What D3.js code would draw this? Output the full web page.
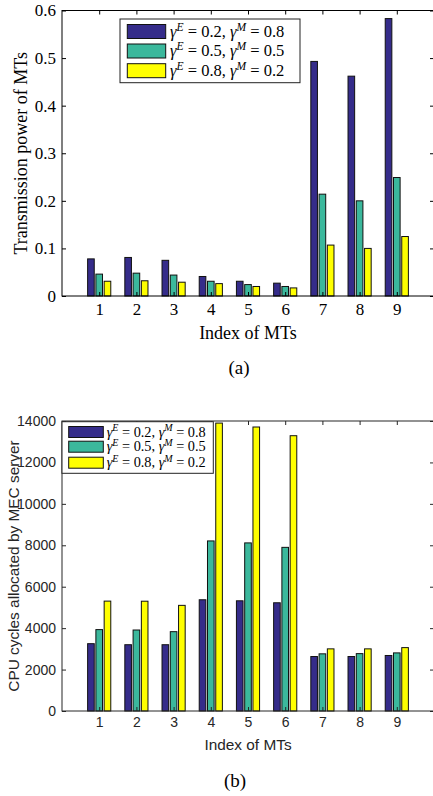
<!DOCTYPE html>
<html><head><meta charset="utf-8">
<script src="https://cdn.jsdelivr.net/npm/d3@7"></script>
<style>body{margin:0;background:#fff}svg{display:block}</style>
</head><body>
<svg id="c" width="433" height="796"></svg>
<script>
const categories = [1,2,3,4,5,6,7,8,9];
const seriesLabels = [["0.2","0.8"],["0.5","0.5"],["0.8","0.2"]];
const colors = ["#352c8a","#3bb89c","#ffff00"];
// (a) Transmission power
const powerS1 = [0.078,0.081,0.075,0.041,0.031,0.027,0.493,0.462,0.583];
const powerS2 = [0.046,0.048,0.044,0.031,0.024,0.020,0.214,0.200,0.249];
const powerS3 = [0.031,0.032,0.029,0.026,0.020,0.017,0.107,0.100,0.125];
const powerTicks = [0,0.1,0.2,0.3,0.4,0.5,0.6];
// (b) CPU cycles
const cpuS1 = [3250,3200,3200,5370,5320,5225,2630,2630,2680];
const cpuS2 = [3930,3910,3830,8210,8115,7900,2760,2770,2805];
const cpuS3 = [5305,5300,5100,13900,13710,13290,3000,3000,3060];
const cpuTicks = [0,2000,4000,6000,8000,10000,12000,14000];

const SERIF = "'Liberation Serif', 'Times New Roman', serif";
const SANS = "'Liberation Sans', Arial, Helvetica, sans-serif";
const svg = d3.select("#c");

function panel(o){
  const g = svg.append("g");
  const x = d3.scaleLinear().domain([0,10]).range([62,434]);
  const y = d3.scaleLinear().domain(o.ydom).range([o.bottom,o.top]);
  const step = 0.2222, bw = 0.178;
  o.series.forEach((vals,j)=>{
    g.selectAll(null).data(vals).enter().append("rect")
      .attr("x",(d,i)=>x(categories[i]+(j-1)*step - bw/2))
      .attr("width",x(bw)-x(0))
      .attr("y",d=>y(d))
      .attr("height",d=>y(0)-y(d))
      .attr("fill",colors[j]).attr("stroke","#111").attr("stroke-width",1);
  });
  const ink = o.ink;
  g.append("rect").attr("x",x(0)).attr("y",y(o.ydom[1])).attr("width",x(10)-x(0))
   .attr("height",y(0)-y(o.ydom[1])).attr("fill","none").attr("stroke",ink).attr("stroke-width",1);
  const tl = 4;
  const xa = d3.axisBottom(x).tickValues(categories).tickSize(-tl).tickPadding(tl+o.xpad).tickFormat(d3.format("d"));
  const gx = g.append("g").attr("transform",`translate(0,${y(0)})`).call(xa);
  const gxt = g.append("g").attr("transform",`translate(0,${y(o.ydom[1])})`).call(d3.axisTop(x).tickValues(categories).tickSize(-tl).tickFormat(""));
  const ya = d3.axisLeft(y).tickValues(o.ticks).tickSize(-tl).tickPadding(tl+o.ypad).tickFormat(o.fmt);
  const gy = g.append("g").attr("transform",`translate(${x(0)},0)`).call(ya);
  const gyr = g.append("g").attr("transform",`translate(${x(10)},0)`).call(d3.axisRight(y).tickValues(o.ticks).tickSize(-tl).tickFormat(""));
  [gx,gxt,gy,gyr].forEach(a=>{
    a.attr("font-family",null).attr("font-size",null);
    a.select(".domain").remove();
    a.selectAll("line").attr("stroke",ink);
    a.selectAll("text").attr("fill",ink).style("font-family",o.font).style("font-size",o.tickSize+"px");
  });
  g.append("text").attr("x",248).attr("y",o.xlabY).attr("text-anchor","middle")
   .style("font-family",o.font).style("font-size",o.labSize+"px").attr("fill",ink).text("Index of MTs");
  g.append("text").attr("transform",`translate(${o.ylabX},${(o.top+o.bottom)/2}) rotate(-90)`)
   .attr("text-anchor","middle").style("font-family",o.font).style("font-size",o.labSize+"px")
   .attr("fill",ink).text(o.ylab);
  g.append("text").attr("x",o.capX).attr("y",o.capY).attr("text-anchor","middle")
   .style("font-family",SERIF).style("font-size","19px").attr("fill","#000").text(o.cap);
  const L = o.leg;
  g.append("rect").attr("x",L.x0).attr("y",L.y0).attr("width",L.x1-L.x0).attr("height",L.y1-L.y0)
   .attr("fill","#fff").attr("stroke","#222").attr("stroke-width",1);
  seriesLabels.forEach((lab,j)=>{
    const cy = L.rows[j];
    g.append("rect").attr("x",L.sx0).attr("y",cy-L.sh/2).attr("width",L.sx1-L.sx0).attr("height",L.sh)
     .attr("fill",colors[j]).attr("stroke","#111").attr("stroke-width",1);
    const t = g.append("text").attr("x",L.tx).attr("y",cy+L.fs*0.33)
      .style("font-family",SERIF).style("font-size",L.fs+"px").attr("fill","#000");
    const sup = L.fs*0.7;
    t.append("tspan").style("font-style","italic").text("γ");
    t.append("tspan").style("font-style","italic").style("font-size",sup+"px").attr("dy",-L.fs*0.38).text("E");
    t.append("tspan").attr("dy",L.fs*0.38).text(" = "+lab[0]+", ");
    t.append("tspan").style("font-style","italic").text("γ");
    t.append("tspan").style("font-style","italic").style("font-size",sup+"px").attr("dy",-L.fs*0.38).text("M");
    t.append("tspan").attr("dy",L.fs*0.38).text(" = "+lab[1]);
  });
}

panel({
  series:[powerS1,powerS2,powerS3], ydom:[0,0.6], top:10.5, bottom:296, ticks:powerTicks,
  fmt:d=>d===0?"0":d3.format(".1f")(d), ink:"#000", font:SERIF,
  tickSize:17, labSize:18, xpad:3, ypad:2, xlabY:339, ylabX:27, ylab:"Transmission power of MTs",
  cap:"(a)", capX:239, capY:374,
  leg:{x0:120,y0:19,x1:300,y1:82.7,sx0:127.3,sx1:165.7,sh:14,rows:[31.5,51,70.7],tx:170,fs:16.5}
});
panel({
  series:[cpuS1,cpuS2,cpuS3], ydom:[0,14000], top:421, bottom:711, ticks:cpuTicks,
  fmt:d3.format("d"), ink:"#262626", font:SANS,
  tickSize:14, labSize:15.4, xpad:2, ypad:2, xlabY:750, ylabX:19, ylab:"CPU cycles allocated by MEC server",
  cap:"(b)", capX:235, capY:787,
  leg:{x0:62,y0:421.7,x1:213.3,y1:473.3,sx0:68.7,sx1:103.3,sh:11,rows:[432,446.7,462.7],tx:106.7,fs:14.3}
});
</script>
</body></html>
